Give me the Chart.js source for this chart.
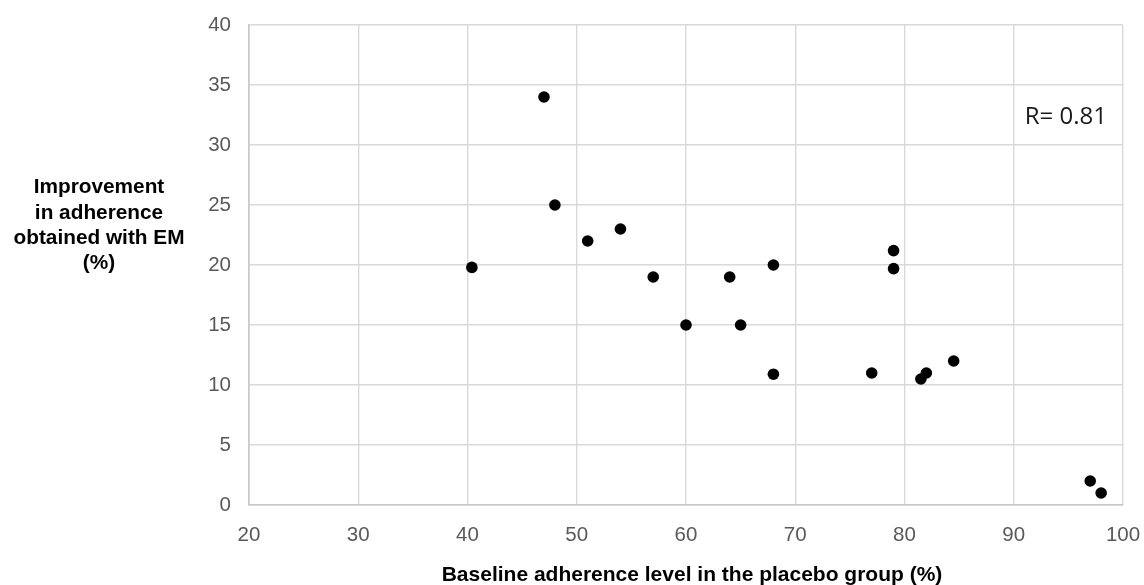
<!DOCTYPE html>
<html>
<head>
<meta charset="utf-8">
<script src="https://cdn.jsdelivr.net/npm/chart.js@4/dist/chart.umd.min.js"></script>
<style>
  html, body { margin: 0; padding: 0; background: #ffffff; }
  #wrap { width: 1144px; height: 585px; position: relative; }
</style>
</head>
<body>
<div id="wrap"><canvas id="c" width="1144" height="585"></canvas></div>
<script>
// Baseline adherence level in the placebo group (%)
const baselineAdherence = [40.4, 47, 48, 51, 54, 57, 60, 64, 65, 68, 68, 77, 79, 79, 81.5, 82, 84.5, 97, 98];
// Improvement in adherence obtained with EM (%)
const improvement = [19.8, 34, 25, 22, 23, 19, 15, 19, 15, 20, 10.9, 11, 21.2, 19.7, 10.5, 11, 12, 2, 1];

const xTicks = [20, 30, 40, 50, 60, 70, 80, 90, 100];
const yTicks = [0, 5, 10, 15, 20, 25, 30, 35, 40];

const yTitleLines = ["Improvement", "in adherence", "obtained with EM", "(%)"];
const xTitle = "Baseline adherence level in the placebo group (%)";
const annotationText = "R= 0.81";
const annotationAt = { x: 91, y: 32.3 };

const points = baselineAdherence.map((x, i) => ({ x: x, y: improvement[i] }));

const titlesPlugin = {
  id: 'titles',
  afterDraw(chart) {
    const ctx = chart.ctx;
    const xs = chart.scales.x, ys = chart.scales.y;
    ctx.save();
    ctx.fillStyle = '#000000';
    ctx.textAlign = 'center';
    ctx.textBaseline = 'middle';
    ctx.font = 'bold 20.8px "Liberation Sans", Arial, sans-serif';
    const lh = 25.3;
    const cy = 225.5;
    yTitleLines.forEach((t, i) => {
      ctx.fillText(t, 99, cy + (i - (yTitleLines.length - 1) / 2) * lh);
    });
    ctx.font = 'bold 21px "Liberation Sans", Arial, sans-serif';
    ctx.fillText(xTitle, (chart.chartArea.left + chart.chartArea.right) / 2 + 6, 575);
    // annotation
    ctx.textAlign = 'left';
    ctx.fillStyle = '#1a1a1a';
    ctx.font = '24px "Open Sans", "Liberation Sans", sans-serif';
    ctx.fillText(annotationText, xs.getPixelForValue(annotationAt.x), ys.getPixelForValue(annotationAt.y));
    ctx.restore();
  }
};

new Chart(document.getElementById('c'), {
  type: 'scatter',
  data: {
    datasets: [{
      data: points,
      backgroundColor: '#000000',
      borderColor: '#000000',
      pointRadius: 5.8,
      pointHoverRadius: 5.8,
      borderWidth: 0
    }]
  },
  options: {
    responsive: false,
    animation: false,
    devicePixelRatio: 1,
    layout: { padding: { top: 25, right: 21, left: 0, bottom: 0 } },
    plugins: { legend: { display: false }, tooltip: { enabled: false } },
    scales: {
      x: {
        type: 'linear',
        min: 20, max: 100,
        afterBuildTicks: (s) => { s.ticks = xTicks.map(v => ({ value: v })); },
        afterFit: (s) => { s.height = 80; s.paddingLeft = 0; s.paddingRight = 0; },
        grid: { color: '#d9d9d9', lineWidth: 1.4, drawTicks: false },
        border: { color: '#c8c8c8', width: 1.6 },
        ticks: {
          color: '#595959',
          font: { family: '"Liberation Sans", Arial, sans-serif', size: 20.5 },
          padding: 18,
          maxRotation: 0
        }
      },
      y: {
        type: 'linear',
        min: 0, max: 40,
        afterBuildTicks: (s) => { s.ticks = yTicks.map(v => ({ value: v })); },
        afterFit: (s) => { s.width = 249; s.paddingTop = 0; s.paddingBottom = 0; },
        grid: { color: '#d9d9d9', lineWidth: 1.4, drawTicks: false },
        border: { color: '#c8c8c8', width: 1.6 },
        ticks: {
          color: '#595959',
          font: { family: '"Liberation Sans", Arial, sans-serif', size: 20.5 },
          padding: 18
        }
      }
    }
  },
  plugins: [titlesPlugin]
});
</script>
</body>
</html>
